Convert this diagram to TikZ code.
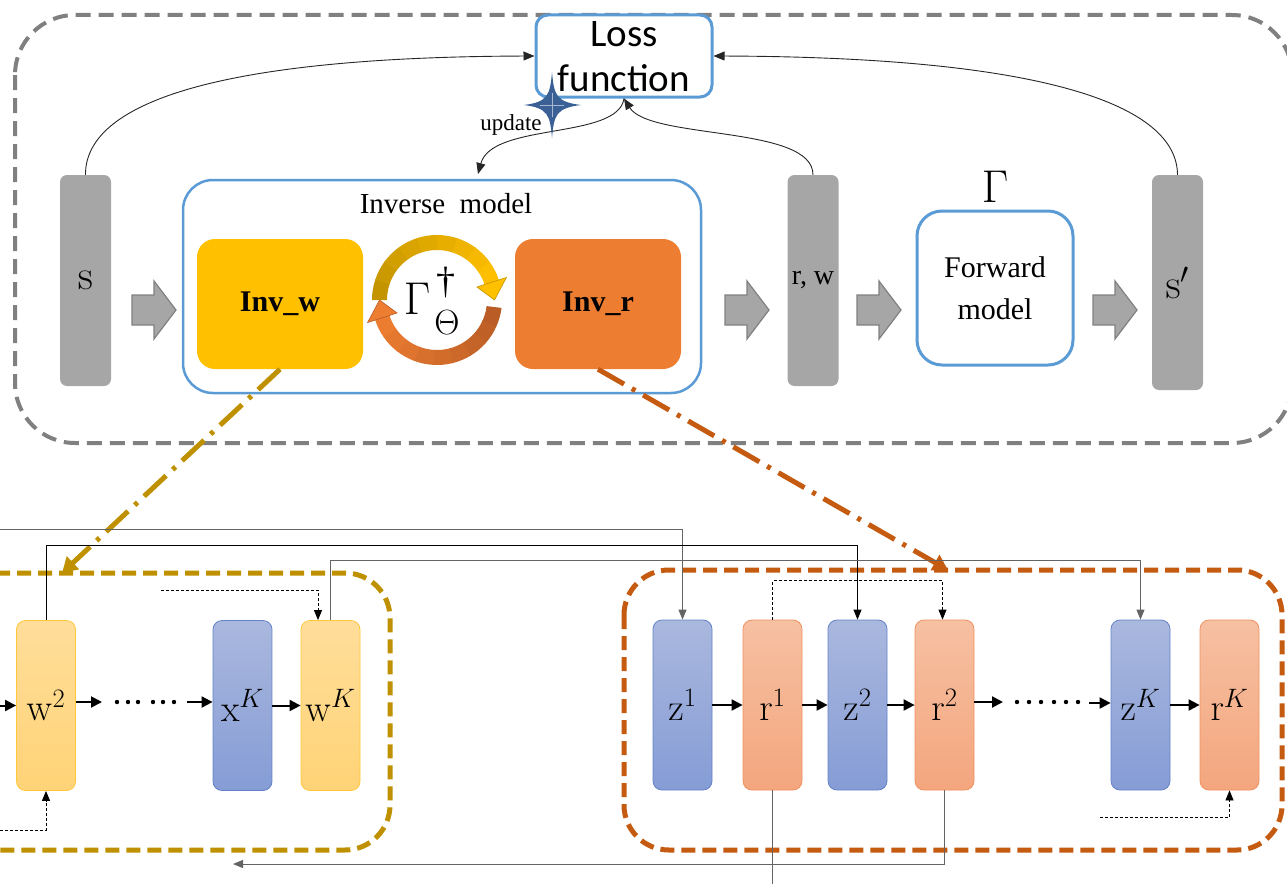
\RequirePackage{fix-cm}
\documentclass[tikz,border=0pt]{standalone}
\usepackage[no-math]{fontspec}
\setmainfont{Liberation Serif}
\newfontfamily\lossfont{Carlito}
\usetikzlibrary{arrows.meta,calc}

\definecolor{frameGrey}{RGB}{128,128,128}
\definecolor{boxGrey}{RGB}{166,166,166}
\definecolor{lineBlue}{RGB}{91,155,213}
\definecolor{invW}{RGB}{255,192,0}
\definecolor{invR}{RGB}{237,125,49}
\definecolor{wDash}{RGB}{191,144,0}
\definecolor{rDash}{RGB}{197,90,17}
\definecolor{starBlue}{RGB}{59,96,150}
\definecolor{wTop}{RGB}{255,222,155}
\definecolor{wBot}{RGB}{255,211,118}
\definecolor{wEdge}{RGB}{255,200,60}
\definecolor{zTop}{RGB}{170,184,222}
\definecolor{zBot}{RGB}{133,156,213}
\definecolor{zEdge}{RGB}{100,130,200}
\definecolor{rTop}{RGB}{246,192,162}
\definecolor{rBot}{RGB}{244,166,126}
\definecolor{rEdge}{RGB}{240,145,95}
\definecolor{connGrey}{RGB}{100,100,100}
\definecolor{ringYdark}{RGB}{196,148,0}
\definecolor{ringOdark}{RGB}{185,92,38}

\tikzset{
  outerframe/.style={draw=frameGrey, line width=4pt, dash pattern=on 15pt off 8pt, rounded corners=60pt},
  wframe/.style={draw=wDash, line width=5pt, dash pattern=on 14pt off 7pt, rounded corners=45pt},
  rframe/.style={draw=rDash, line width=5pt, dash pattern=on 14pt off 7pt, rounded corners=45pt},
  greybar/.style={fill=boxGrey, rounded corners=7pt, minimum width=51pt, inner sep=0pt},
  bluebox/.style={draw=lineBlue, line width=2.5pt, fill=white, inner sep=0pt},
  invblock/.style={rounded corners=18pt, minimum width=166pt, minimum height=130pt, inner sep=0pt,
    font=\fontsize{30}{34}\selectfont\bfseries},
  cell/.style={rounded corners=9pt, minimum width=59pt, minimum height=170pt, line width=0.8pt,
    inner sep=0pt, font=\fontsize{38}{40}\selectfont},
  wcell/.style={cell, draw=wEdge, top color=wTop, bottom color=wBot},
  zcell/.style={cell, draw=zEdge, top color=zTop, bottom color=zBot},
  rcell/.style={cell, draw=rEdge, top color=rTop, bottom color=rBot},
  blockarrow/.style={fill=boxGrey, draw=frameGrey, line width=1.2pt, line join=miter},
  symbolpart/.style={inner sep=0pt},
  lossarc/.style={draw=black!85, line width=0.9pt, -{Triangle[width=9pt,length=11pt]}},
  feedback/.style={draw=connGrey, line width=1pt, -{Triangle[width=8pt,length=10pt]}},
  flow/.style={draw=black, line width=2pt, -{Triangle[width=11pt,length=11pt]}},
  hint/.style={draw=black, line width=0.8pt, dash pattern=on 3pt off 2pt, -{Triangle[width=8pt,length=10pt]}},
  zoomw/.style={draw=wDash, line width=5pt, dash pattern=on 30pt off 9pt on 4pt off 9pt,
    -{Triangle[width=17pt,length=15pt]}},
  zoomr/.style={draw=rDash, line width=5pt, dash pattern=on 30pt off 9pt on 4pt off 9pt,
    -{Triangle[width=17pt,length=15pt]}},
}

\begin{document}
\begin{tikzpicture}[x=1pt,y=1pt]
\useasboundingbox (0,0) rectangle (1287,-883);
\clip (0,0) rectangle (1287,-883);

% group frames
\draw[outerframe] (15,-15) rectangle (1292,-443);
\draw[wframe] (-60,-573) rectangle (390,-850);
\draw[rframe] (624,-570) rectangle (1282,-850);

% upper pipeline
\node[greybar, minimum height=211pt] (s) at (85.5,-280.5)
  {\fontsize{42}{42}\selectfont\raisebox{-5pt}{$\mathrm{s}$}};
\node[bluebox, rounded corners=30pt, minimum width=518pt, minimum height=213pt] (inv) at (442,-286.5) {};
\node (invtitle) at (446,-204) {\fontsize{29}{32}\selectfont Inverse\ \ model};
\node[invblock, fill=invW] (invw) at (280,-304) {Inv\_w};
\node[invblock, fill=invR] (invr) at (598,-304) {Inv\_r};
\node[greybar, minimum height=211pt] (rw) at (813,-280.5)
  {\fontsize{28}{30}\selectfont r, w};
\node[bluebox, line width=3pt, rounded corners=25pt, minimum width=156pt, minimum height=154pt,
  align=center, font=\fontsize{30}{42}\selectfont] (fwd) at (995,-288) {Forward\\model};
\node (fwdsym) at (995,-187) {\fontsize{46}{48}\selectfont$\Gamma$};
\node[greybar, minimum height=215pt] (sp) at (1177.5,-282.5)
  {\fontsize{42}{42}\selectfont\raisebox{-5pt}{$\mathrm{s}'$}};

% block arrows between the stages
\foreach \ax in {132,725,857,1093}
  \filldraw[blockarrow] (\ax,-295) -- ++(22,0) -- ++(0,14) -- ++(22,-29) -- ++(-22,-29)
    -- ++(0,14) -- ++(-22,0) -- cycle;

% alternating update loop inside the inverse model
\begin{scope}[shift={(437,-300)}]
  \foreach \i in {0,...,8}{
    \pgfmathsetmacro\aS{180-18*\i}
    \pgfmathsetmacro\aE{180-18*(\i+1)-0.6}
    \pgfmathtruncatemacro\mix{100-12*\i}
    \fill[ringYdark!\mix!invW] (\aS:50) arc[start angle=\aS, end angle=\aE, radius=50]
      -- (\aE:65) arc[start angle=\aE, end angle=\aS, radius=65] -- cycle;
  }
  \filldraw[fill=invW, draw=ringYdark, line width=0.6pt] (18:42) -- (18:73) -- (0:57.5) -- cycle;
  \foreach \i in {0,...,8}{
    \pgfmathsetmacro\aS{-7-17.2*\i}
    \pgfmathsetmacro\aE{-7-17.2*(\i+1)-0.6}
    \pgfmathtruncatemacro\mix{100-12*\i}
    \fill[ringOdark!\mix!invR] (\aS:50) arc[start angle=\aS, end angle=\aE, radius=50]
      -- (\aE:65) arc[start angle=\aE, end angle=\aS, radius=65] -- cycle;
  }
  \filldraw[fill=invR, draw=ringOdark, line width=0.6pt] (-162:42) -- (-162:73) -- (-180:57.5) -- cycle;
\end{scope}
% the inverse operator symbol, set from its three parts
\node[symbolpart] (gam) at (417,-299) {\fontsize{46}{48}\selectfont$\Gamma$};
\node[symbolpart] (dag) at (446,-283) {\fontsize{38}{40}\selectfont †};
\node[symbolpart] (theta) at (447,-323) {\fontsize{35}{37}\selectfont$\Theta$};

% loss function and its inputs
\node[bluebox, line width=3pt, rounded corners=12pt, minimum width=176pt, minimum height=82pt] (loss) at (624,-56) {};
\node[align=center, font=\lossfont\fontsize{39}{45}\selectfont] (losstext) at (624,-57) {Loss\\function};
\coordinate (updEnd) at (478,-174);
\draw[lossarc] (s.north) .. controls (85,-105) and (210,-57) .. (loss.west);
\draw[lossarc] (sp.north) .. controls (1177,-105) and (1045,-57) .. (loss.east);
\draw[lossarc] (rw.north) .. controls (813,-125) and (650,-140) .. (loss.south);
\draw[lossarc] (loss.south) .. controls (618,-140) and (492,-122) .. (updEnd);
\node (upd) at (511,-125) {\fontsize{23}{25}\selectfont update};
% update marker
\fill[starBlue] (552,-72) .. controls (554,-95) and (556,-102) .. (581,-105)
  .. controls (556,-108) and (554,-115) .. (552,-138)
  .. controls (550,-115) and (548,-108) .. (524,-105)
  .. controls (548,-102) and (550,-95) .. (552,-72) -- cycle;
\draw[starBlue!45!white, line width=0.6pt] (552,-93) -- (552,-117) (540,-105) -- (564,-105);

% zoom-in links to the unrolled blocks
\coordinate (wTip) at (62,-573);
\coordinate (rTip) at (948,-570);
\draw[zoomw] (invw.south) -- (wTip);
\draw[zoomr] (invr.south) -- (rTip);

% unrolled w-branch
\node[wcell] (w2) at (46,-705.5) {$\mathrm{w}^2$};
\node[zcell] (xK) at (242.5,-705.5) {$\mathrm{x}^K$};
\node[wcell] (wK) at (330.5,-705.5) {$\mathrm{w}^K$};

% unrolled r-branch
\node[zcell] (z1) at (682.5,-705) {$\mathrm{z}^1$};
\node[rcell] (r1) at (772.5,-705) {$\mathrm{r}^1$};
\node[zcell] (z2) at (857.5,-705) {$\mathrm{z}^2$};
\node[rcell] (r2) at (944.5,-705) {$\mathrm{r}^2$};
\node[zcell] (zK) at (1140.5,-705) {$\mathrm{z}^K$};
\node[rcell] (rK) at (1229.5,-705) {$\mathrm{r}^K$};

% sequential flow
\coordinate (wIn) at (0,-705.5);
\coordinate (wOut) at (102,-702);
\coordinate (xIn) at (187,-702);
\coordinate (rOut) at (1003,-702);
\coordinate (zIn) at (1089,-703);
\draw[flow] (wIn) -- (w2.west);
\draw[flow] (w2.east |- wOut) -- (wOut);
\draw[flow] (xIn) -- (xK.west |- xIn);
\draw[flow] (xK.east) -- (wK.west);
\draw[flow] (z1.east) -- (r1.west);
\draw[flow] (r1.east) -- (z2.west);
\draw[flow] (z2.east) -- (r2.west);
\draw[flow] (r2.east |- rOut) -- (rOut);
\draw[flow] (zIn) -- (zK.west |- zIn);
\draw[flow] (zK.east) -- (rK.west);
\foreach \d in {117,128,138,153,163,174} \fill (\d,-702) circle (2.2);
\foreach \d in {1017,1029,1041,1054,1066,1078} \fill (\d,-702) circle (2.2);

% cross connections
\coordinate (feedA) at (0,-529);
\coordinate (feedD) at (233,-864);
\coordinate (feedE) at (772.5,-890);
\draw[feedback] (feedA) -| (z1.north);
\draw[feedback, draw=black] (w2.north) -- ++(0,75) -| (z2.north);
\draw[feedback] (wK.north) -- ++(0,60) -| (zK.north);
\draw[feedback] (r2.south) |- (feedD);
\draw[draw=connGrey, line width=1pt] (r1.south) -- (feedE);

% initialisation hints
\coordinate (hintWK) at (161,-590);
\coordinate (hintW2) at (0,-830);
\coordinate (hintRK) at (1100,-817);
\draw[hint] (hintWK) -| ($(wK.north)+(-12.5,0)$);
\draw[hint] (hintW2) -| (w2.south);
\draw[hint] (r1.north) -- ++(0,39) -| ($(r2.north)+(-2,0)$);
\draw[hint] (hintRK) -| (rK.south);
\end{tikzpicture}
\end{document}
